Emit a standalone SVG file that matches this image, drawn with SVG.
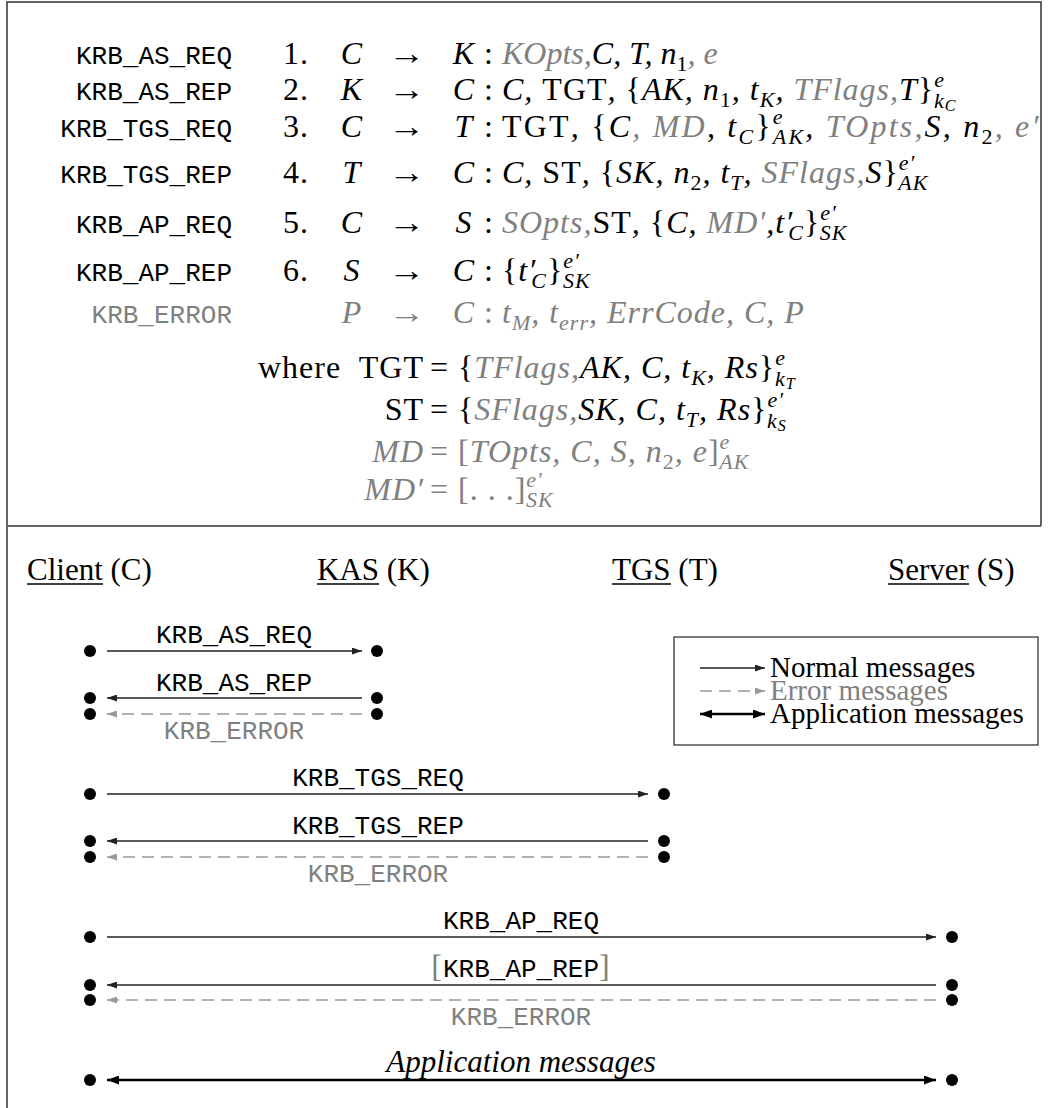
<svg xmlns="http://www.w3.org/2000/svg" width="1048" height="1108" viewBox="0 0 1048 1108">
<style>
.l{font-family:"Liberation Mono",monospace;font-size:26px;fill:#000}
.m{font-family:"Liberation Serif",serif;font-size:32px;font-style:italic;fill:#000;letter-spacing:1px}
.t{font-family:"Liberation Serif",serif;font-size:31px;fill:#000}
.lg{font-family:"Liberation Serif",serif;font-size:29px;fill:#000}
.r{font-style:normal}
.g{fill:#808080}
.s{font-size:22px}
.ss{font-size:16px}
.frame{fill:none;stroke:#333;stroke-width:1.5}
.sep{stroke:#666;stroke-width:2}
.ul{stroke:#000;stroke-width:1.5}
.n{stroke:#222;stroke-width:1.3;fill:none;marker-end:url(#ah)}
.e{stroke:#999;stroke-width:1.5;fill:none;stroke-dasharray:12 7;marker-end:url(#ahg)}
.a{stroke:#000;stroke-width:2.6;fill:none;marker-end:url(#ahb);marker-start:url(#ahb)}
.dot{fill:#000}
</style>
<defs>
<marker id="ah" viewBox="0 0 10 7" refX="10" refY="3.5" markerWidth="10" markerHeight="7" markerUnits="userSpaceOnUse" orient="auto-start-reverse"><path d="M0,0 L10,3.5 L0,7 z" fill="#222"/></marker>
<marker id="ahg" viewBox="0 0 10 7" refX="10" refY="3.5" markerWidth="10" markerHeight="7" markerUnits="userSpaceOnUse" orient="auto-start-reverse"><path d="M0,0 L10,3.5 L0,7 z" fill="#999"/></marker>
<marker id="ahb" viewBox="0 0 12 9" refX="12" refY="4.5" markerWidth="12" markerHeight="9" markerUnits="userSpaceOnUse" orient="auto-start-reverse"><path d="M0,0 L12,4.5 L0,9 z" fill="#000"/></marker>
</defs>

<path class="frame" d="M7,1108 V2 H1041 V526"/>
<line class="sep" x1="7" y1="526" x2="1041" y2="526"/>

<g id="protocol">
<g id="row1">
<text class="l" x="232" y="64" text-anchor="end">KRB_AS_REQ</text>
<text class="m r" x="283" y="64">1.</text>
<text class="m" x="352" y="64" text-anchor="middle">C</text>
<text class="m r" x="388" y="64" textLength="38" lengthAdjust="spacingAndGlyphs">→</text>
<text class="m" x="464" y="64" text-anchor="middle">K</text>
<text class="m r" x="484" y="64">:</text>
<text class="m" x="502" y="64" style="letter-spacing:0"><tspan class="g">KOpts,</tspan>C, T, n<tspan class="s r" dy="7">1</tspan><tspan class="g" dy="-7">, e</tspan></text>
</g>
<g id="row2">
<text class="l" x="232" y="100" text-anchor="end">KRB_AS_REP</text>
<text class="m r" x="283" y="100">2.</text>
<text class="m" x="352" y="100" text-anchor="middle">K</text>
<text class="m r" x="388" y="100" textLength="38" lengthAdjust="spacingAndGlyphs">→</text>
<text class="m" x="464" y="100" text-anchor="middle">C</text>
<text class="m r" x="484" y="100">:</text>
<text class="m" x="502" y="100">C, <tspan class="r">TGT</tspan>, <tspan class="r">{</tspan>AK, n<tspan class="s r" dy="7">1</tspan><tspan dy="-7">, t</tspan><tspan class="s" dy="7">K</tspan><tspan dy="-7">, </tspan><tspan class="g">TFlags,</tspan>T<tspan class="r">}</tspan><tspan class="s" dy="-13">e</tspan><tspan class="s" dx="-11" dy="21">k</tspan><tspan class="ss" dy="3">C</tspan></text>
</g>
<g id="row3">
<text class="l" x="232" y="137" text-anchor="end">KRB_TGS_REQ</text>
<text class="m r" x="283" y="137">3.</text>
<text class="m" x="352" y="137" text-anchor="middle">C</text>
<text class="m r" x="388" y="137" textLength="38" lengthAdjust="spacingAndGlyphs">→</text>
<text class="m" x="464" y="137" text-anchor="middle">T</text>
<text class="m r" x="484" y="137">:</text>
<text class="m" x="502" y="137" style="letter-spacing:2.2px"><tspan class="r">TGT</tspan>, <tspan class="r">{</tspan>C<tspan class="g">, MD</tspan>, t<tspan class="s" dy="7">C</tspan><tspan class="r" dy="-7">}</tspan><tspan class="s" dy="-13">e</tspan><tspan class="s" dx="-12" dy="20">AK</tspan><tspan dy="-7">, </tspan><tspan class="g">TOpts,</tspan>S, n<tspan class="s r" dy="7">2</tspan><tspan class="g" dy="-7">, e′</tspan></text>
</g>
<g id="row4">
<text class="l" x="232" y="183" text-anchor="end">KRB_TGS_REP</text>
<text class="m r" x="283" y="183">4.</text>
<text class="m" x="352" y="183" text-anchor="middle">T</text>
<text class="m r" x="388" y="183" textLength="38" lengthAdjust="spacingAndGlyphs">→</text>
<text class="m" x="464" y="183" text-anchor="middle">C</text>
<text class="m r" x="484" y="183">:</text>
<text class="m" x="502" y="183">C, <tspan class="r">ST</tspan>, <tspan class="r">{</tspan>SK, n<tspan class="s r" dy="7">2</tspan><tspan dy="-7">, t</tspan><tspan class="s" dy="7">T</tspan><tspan dy="-7">, </tspan><tspan class="g">SFlags,</tspan>S<tspan class="r">}</tspan><tspan class="s" dy="-13">e′</tspan><tspan class="s" dx="-17" dy="20">AK</tspan></text>
</g>
<g id="row5">
<text class="l" x="232" y="233" text-anchor="end">KRB_AP_REQ</text>
<text class="m r" x="283" y="233">5.</text>
<text class="m" x="352" y="233" text-anchor="middle">C</text>
<text class="m r" x="388" y="233" textLength="38" lengthAdjust="spacingAndGlyphs">→</text>
<text class="m" x="464" y="233" text-anchor="middle">S</text>
<text class="m r" x="484" y="233">:</text>
<text class="m" x="502" y="233"><tspan class="g">SOpts,</tspan><tspan class="r">ST</tspan>, <tspan class="r">{</tspan>C, <tspan class="g">MD′</tspan>,t′<tspan class="s" dx="-5" dy="7">C</tspan><tspan class="r" dy="-7">}</tspan><tspan class="s" dy="-13">e′</tspan><tspan class="s" dx="-17" dy="20">SK</tspan></text>
</g>
<g id="row6">
<text class="l" x="232" y="281" text-anchor="end">KRB_AP_REP</text>
<text class="m r" x="283" y="281">6.</text>
<text class="m" x="352" y="281" text-anchor="middle">S</text>
<text class="m r" x="388" y="281" textLength="38" lengthAdjust="spacingAndGlyphs">→</text>
<text class="m" x="464" y="281" text-anchor="middle">C</text>
<text class="m r" x="484" y="281">:</text>
<text class="m" x="502" y="281"><tspan class="r">{</tspan>t′<tspan class="s" dx="-5" dy="7">C</tspan><tspan class="r" dy="-7">}</tspan><tspan class="s" dy="-13">e′</tspan><tspan class="s" dx="-17" dy="20">SK</tspan></text>
</g>
<g id="row7">
<text class="l g" x="232" y="323" text-anchor="end">KRB_ERROR</text>
<text class="m g" x="352" y="323" text-anchor="middle">P</text>
<text class="m r g" x="388" y="323" textLength="38" lengthAdjust="spacingAndGlyphs">→</text>
<text class="m g" x="464" y="323" text-anchor="middle">C</text>
<text class="m r g" x="484" y="323">:</text>
<text class="m g" x="502" y="323">t<tspan class="s" dy="7">M</tspan><tspan dy="-7">, t</tspan><tspan class="s" dy="7">err</tspan><tspan dy="-7">, ErrCode, C, P</tspan></text>
</g>
<g id="where">
<text class="m r" x="258" y="378">where</text>
<text class="m r" x="424" y="378" text-anchor="end">TGT</text>
<text class="m r" x="430" y="378">=</text>
<text class="m" x="458" y="378"><tspan class="r">{</tspan><tspan class="g">TFlags,</tspan>AK, C, t<tspan class="s" dy="7">K</tspan><tspan dy="-7">, Rs</tspan><tspan class="r">}</tspan><tspan class="s" dy="-13">e</tspan><tspan class="s" dx="-11" dy="21">k</tspan><tspan class="ss" dy="3">T</tspan></text>
<text class="m r" x="424" y="420" text-anchor="end">ST</text>
<text class="m r" x="430" y="420">=</text>
<text class="m" x="458" y="420"><tspan class="r">{</tspan><tspan class="g">SFlags,</tspan>SK, C, t<tspan class="s" dy="7">T</tspan><tspan dy="-7">, Rs</tspan><tspan class="r">}</tspan><tspan class="s" dy="-13">e′</tspan><tspan class="s" dx="-17" dy="21">k</tspan><tspan class="ss" dy="3">S</tspan></text>
<text class="m g" x="424" y="462" text-anchor="end">MD</text>
<text class="m r g" x="430" y="462">=</text>
<text class="m g" x="458" y="462"><tspan class="r">[</tspan>TOpts, C, S, n<tspan class="s r" dy="7">2</tspan><tspan dy="-7">, e</tspan><tspan class="r">]</tspan><tspan class="s" dy="-13">e</tspan><tspan class="s" dx="-11" dy="20">AK</tspan></text>
<text class="m g" x="424" y="500" text-anchor="end">MD′</text>
<text class="m r g" x="430" y="500">=</text>
<text class="m g" x="458" y="500"><tspan class="r">[. . .]</tspan><tspan class="s" dy="-13">e′</tspan><tspan class="s" dx="-17" dy="20">SK</tspan></text>
</g>
</g>

<g id="client">
<text class="t" x="27" y="580">Client (C)</text>
<line class="ul" x1="27" y1="584" x2="103" y2="584"/>
<circle class="dot" cx="90" cy="651" r="6"/><circle class="dot" cx="90" cy="698" r="6"/><circle class="dot" cx="90" cy="714" r="6"/>
<circle class="dot" cx="90" cy="794" r="6"/><circle class="dot" cx="90" cy="841" r="6"/><circle class="dot" cx="90" cy="857" r="6"/>
<circle class="dot" cx="90" cy="937" r="6"/><circle class="dot" cx="90" cy="985" r="6"/><circle class="dot" cx="90" cy="1000" r="6"/>
<circle class="dot" cx="90" cy="1080" r="6"/>
</g>
<g id="kas">
<text class="t" x="317" y="580">KAS (K)</text>
<line class="ul" x1="317" y1="584" x2="379" y2="584"/>
<circle class="dot" cx="377" cy="651" r="6"/><circle class="dot" cx="377" cy="698" r="6"/><circle class="dot" cx="377" cy="714" r="6"/>
</g>
<g id="tgs">
<text class="t" x="612" y="580">TGS (T)</text>
<line class="ul" x1="612" y1="584" x2="671" y2="584"/>
<circle class="dot" cx="664" cy="794" r="6"/><circle class="dot" cx="664" cy="841" r="6"/><circle class="dot" cx="664" cy="857" r="6"/>
</g>
<g id="server">
<text class="t" x="888" y="580">Server (S)</text>
<line class="ul" x1="888" y1="584" x2="969" y2="584"/>
<circle class="dot" cx="952" cy="937" r="6"/><circle class="dot" cx="952" cy="985" r="6"/><circle class="dot" cx="952" cy="1000" r="6"/>
<circle class="dot" cx="952" cy="1080" r="6"/>
</g>

<g id="connectors">
<line class="n" x1="107" y1="651" x2="362" y2="651"/>
<line class="n" x1="362" y1="698" x2="107" y2="698"/>
<line class="e" x1="362" y1="714" x2="107" y2="714"/>
<line class="n" x1="107" y1="794" x2="648" y2="794"/>
<line class="n" x1="648" y1="841" x2="107" y2="841"/>
<line class="e" x1="648" y1="857" x2="107" y2="857"/>
<line class="n" x1="107" y1="937" x2="936" y2="937"/>
<line class="n" x1="936" y1="985" x2="107" y2="985"/>
<line class="e" x1="936" y1="1000" x2="107" y2="1000"/>
<line class="a" x1="107" y1="1080" x2="936" y2="1080"/>
</g>

<g id="labels">
<text class="l" x="234" y="643" text-anchor="middle">KRB_AS_REQ</text>
<text class="l" x="234" y="691" text-anchor="middle">KRB_AS_REP</text>
<text class="l g" x="234" y="739" text-anchor="middle">KRB_ERROR</text>
<text class="l" x="378" y="786" text-anchor="middle">KRB_TGS_REQ</text>
<text class="l" x="378" y="834" text-anchor="middle">KRB_TGS_REP</text>
<text class="l g" x="378" y="882" text-anchor="middle">KRB_ERROR</text>
<text class="l" x="521" y="929" text-anchor="middle">KRB_AP_REQ</text>
<text class="l" x="521" y="977" text-anchor="middle"><tspan class="m r g" font-size="30px">[</tspan>KRB_AP_REP<tspan class="m r g" font-size="30px">]</tspan></text>
<text class="l g" x="521" y="1025" text-anchor="middle">KRB_ERROR</text>
<text class="t" x="521" y="1072" text-anchor="middle" font-style="italic">Application messages</text>
</g>

<g id="legend">
<rect x="674" y="637" width="364" height="108" fill="none" stroke="#333" stroke-width="1.3"/>
<line class="n" x1="700" y1="668" x2="765" y2="668"/>
<text class="lg" x="770" y="677">Normal messages</text>
<line class="e" x1="700" y1="691" x2="765" y2="691"/>
<text class="lg g" x="770" y="700">Error messages</text>
<line class="a" x1="700" y1="714" x2="765" y2="714"/>
<text class="lg" x="770" y="723">Application messages</text>
</g>
</svg>
